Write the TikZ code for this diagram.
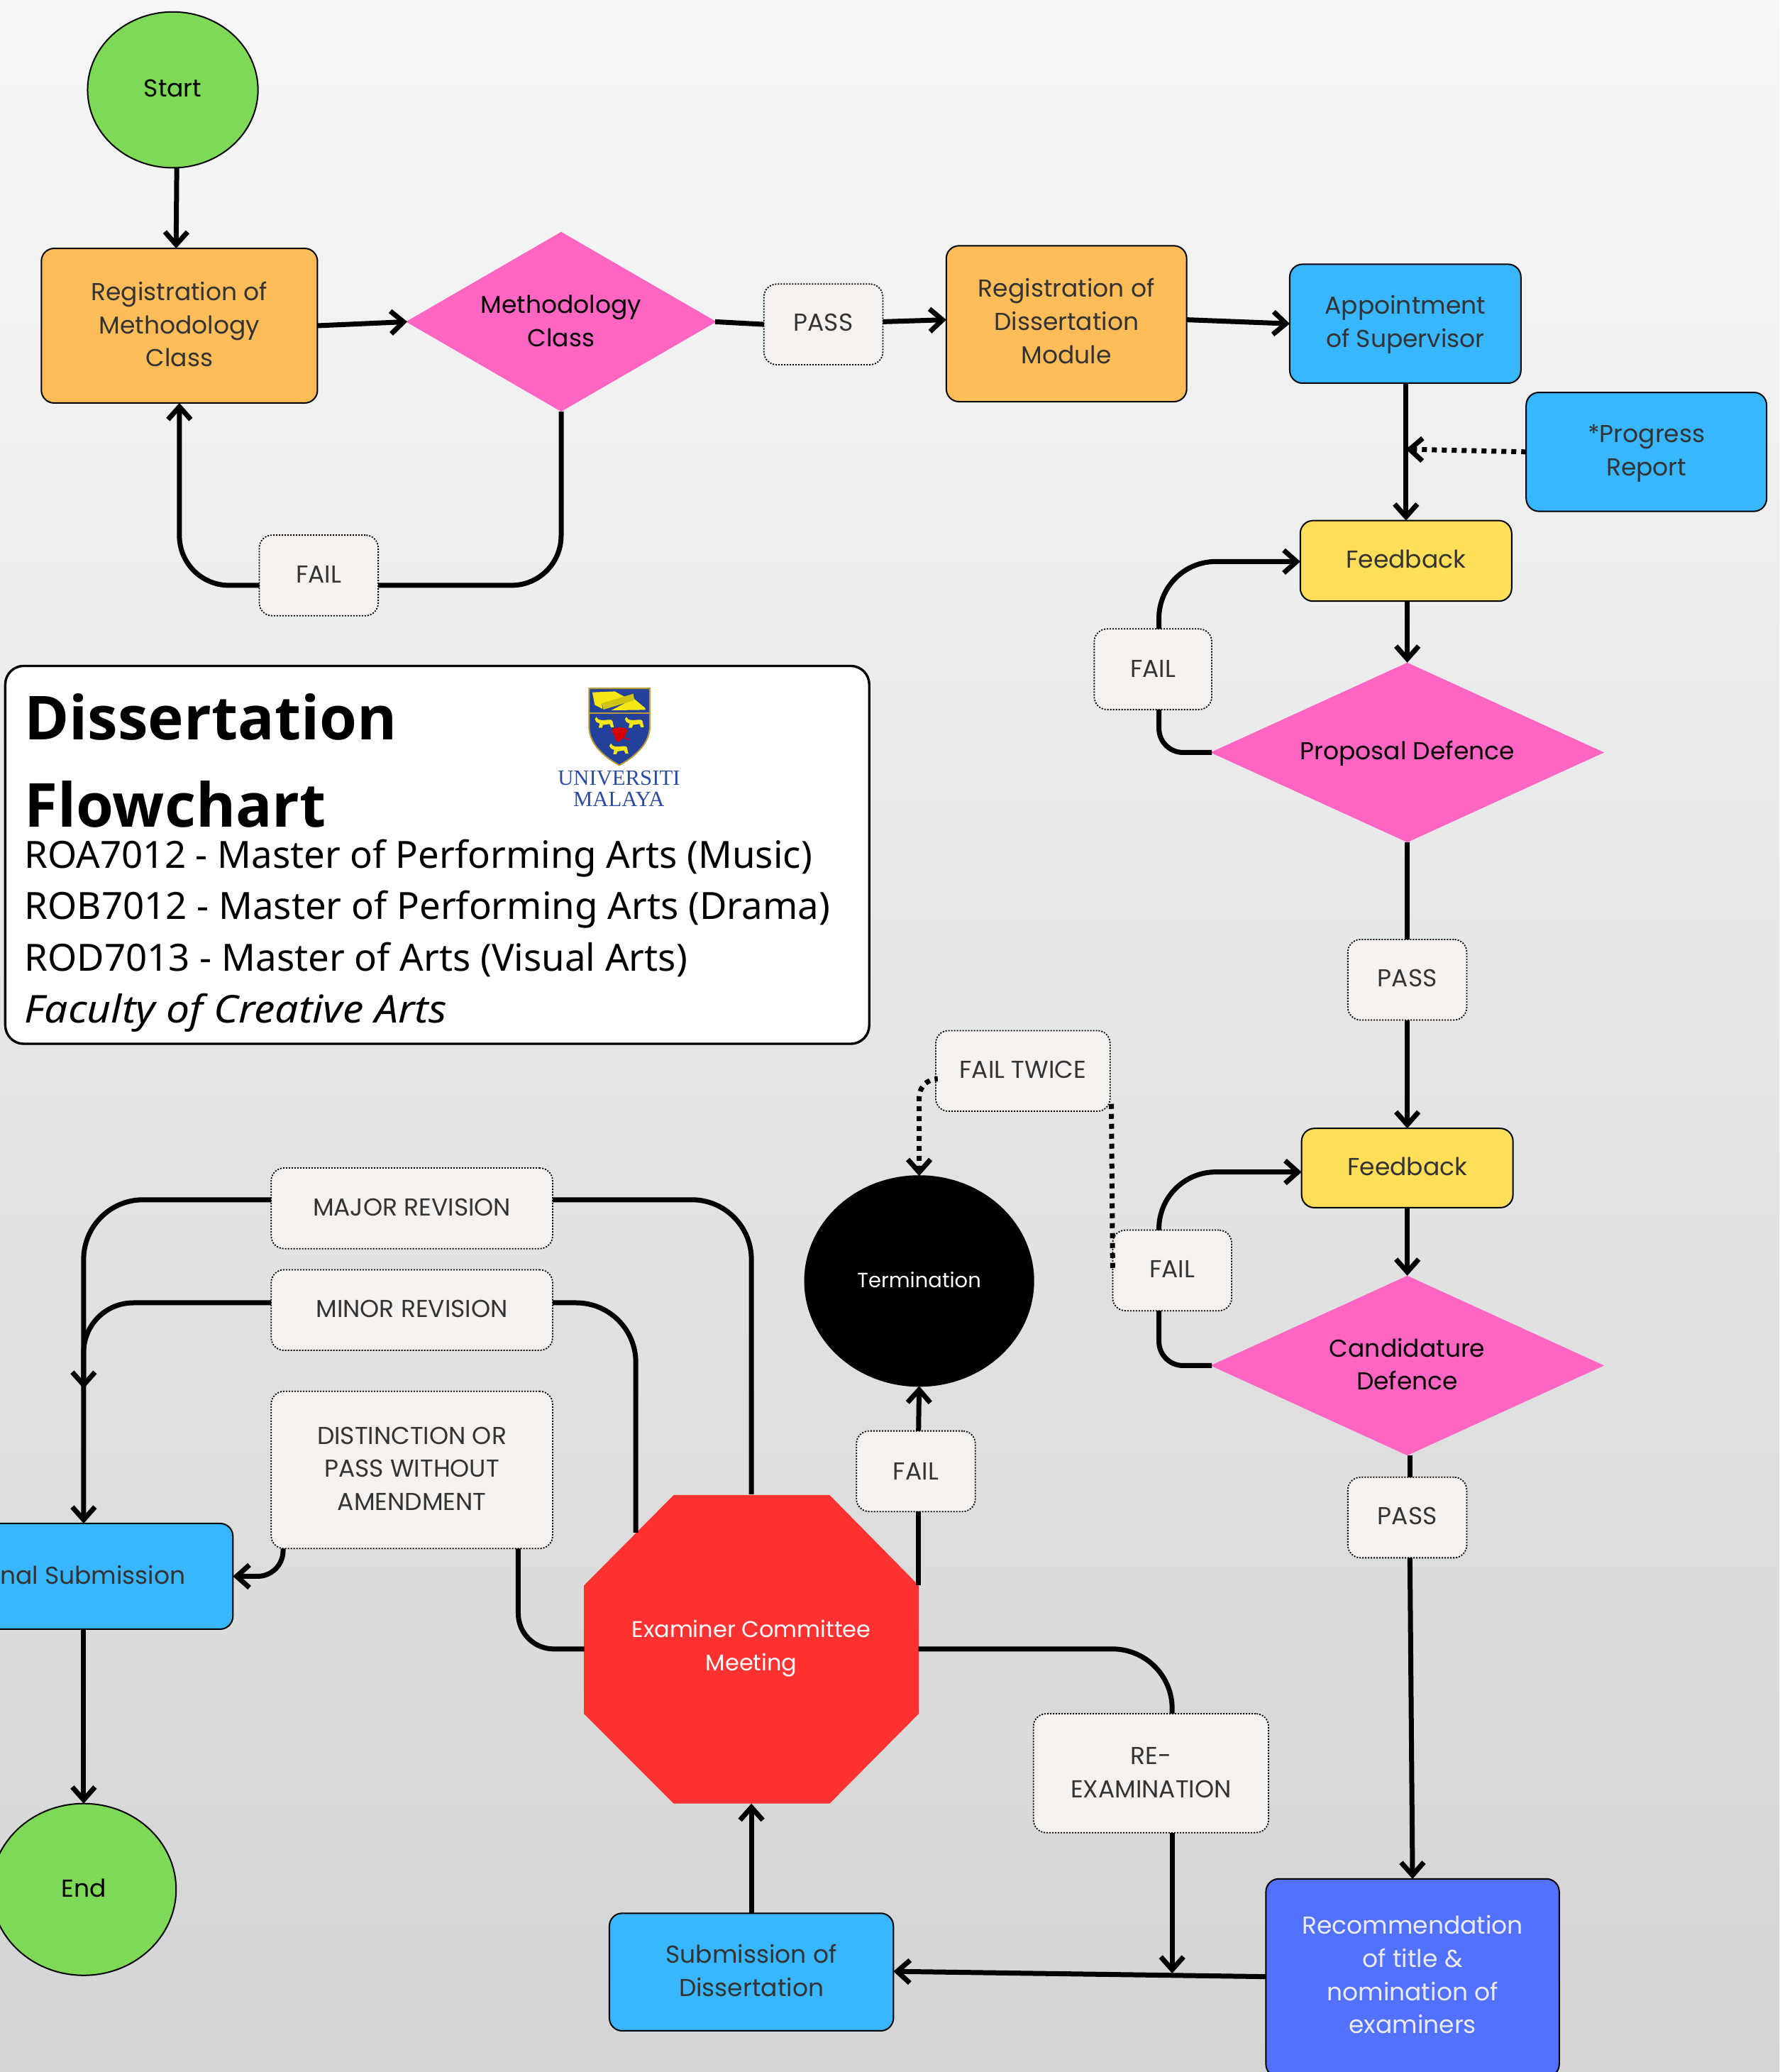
\documentclass[tikz,border=0pt]{standalone}
\usepackage{fontspec}
\setmainfont{Poppins}
\newfontfamily\plex{Noto Sans}
\newfontfamily\plexb{Open Sans}
\newfontfamily\plexi[FakeStretch=1.09]{Noto Sans}
\newfontfamily\logof{Liberation Serif}
\usetikzlibrary{shapes.geometric,arrows.meta,calc}
\definecolor{bgtop}{HTML}{F6F7F7}
\definecolor{bgbot}{HTML}{D3D4D4}
\definecolor{orangebox}{HTML}{FFBD59}
\definecolor{pinkbox}{HTML}{FF66C4}
\definecolor{bluebox}{HTML}{38B6FF}
\definecolor{yellowbox}{HTML}{FFDE59}
\definecolor{greenbox}{HTML}{7ED957}
\definecolor{indigobox}{HTML}{5271FF}
\definecolor{redbox}{HTML}{FF3131}
\definecolor{labelbox}{HTML}{F5F1EE}
\definecolor{inkgrey}{HTML}{333333}
\definecolor{shieldblue}{HTML}{23409A}
\definecolor{shieldedge}{HTML}{B99A3A}
\definecolor{shieldgold}{HTML}{F5E616}
\definecolor{logotext}{HTML}{2C4BA3}
\tikzset{
  x=1.862pt,y=-1.862pt,
  boxtext/.style={font=\fontsize{34.5}{46.6}\selectfont,align=center,text=inkgrey,inner sep=0pt,outer sep=0pt},
  procbox/.style={boxtext,draw=black,line width=2pt,rounded corners=18pt},
  labelb/.style={boxtext,draw=black,fill=labelbox,line width=1.8pt,dash pattern=on 2pt off 2pt,rounded corners=18pt},
  decision/.style={diamond,fill=pinkbox,boxtext,text=black,aspect=1.7},
  blob/.style={ellipse,draw=black,line width=2pt,boxtext,text=black},
  conn/.style={draw=black,line width=7pt},
  flow/.style={conn,-{Straight Barb[length=18pt,width=32pt,line width=7pt]}},
  dots/.style={conn,dash pattern=on 7pt off 7pt},
  dotflow/.style={flow,dash pattern=on 7pt off 7pt},
  titleline/.style={anchor=base west,inner sep=0pt},
  heavy/.style={titleline,font=\plexb\bfseries\fontsize{85.5}{86}\selectfont},
  sub/.style={titleline,font=\plex\fontsize{52.8}{54}\selectfont},
}
% style, name, x0, y0, x1, y1, text shift, text
\newcommand{\mkshape}[8]{%
  \pgfmathsetmacro\mkw{(#5-#3)*1.862}\pgfmathsetmacro\mkh{(#6-#4)*1.862}%
  \pgfmathsetmacro\mkx{(#3+#5)/2+0.3}\pgfmathsetmacro\mky{(#4+#6)/2}%
  \pgfmathsetmacro\mkty{\mky+#7}%
  \node[#1,minimum width=\mkw pt,minimum height=\mkh pt] (#2) at (\mkx,\mky) {};
  \node[#1,draw=none,fill=none] (#2txt) at (\mkx,\mkty) {#8};}
\newcommand{\lionmark}[3]{%
  \begin{scope}[shift={(#1,#2)},x=0.3333pt,y=-0.3333pt,#3]
    \fill[shieldgold] (-26,-12) .. controls (-12,-6) and (0,-8) .. (18,-10) .. controls (30,-12) and (36,-6) .. (36,4)
      -- (40,22) -- (28,22) -- (22,8) -- (-6,12) -- (-10,24) -- (-24,24) -- (-20,6) -- (-34,0) -- (-40,-12) -- (-34,-22) -- cycle;
    \draw[black!75,line width=0.7pt] (36,-8) .. controls (46,-22) and (32,-24) .. (24,-20);
  \end{scope}}
\begin{document}
\begin{tikzpicture}
\clip (0,0) rectangle (1346.92,1568.17);
\shade[top color=bgtop,bottom color=bgbot] (0,0) rectangle (1346.92,1568.17);

% title panel
\node[draw=black,fill=white,line width=3.4pt,rounded corners=26pt,minimum width=654*1.862pt,minimum height=286*1.862pt,inner sep=0pt] (panel) at (331,647) {};
\node[heavy] (t1) at (18.5,560) {Dissertation};
\node[heavy] (t2) at (18.5,626) {Flowchart};
\node[sub] (t3) at (18.5,657) {ROA7012 - Master of Performing Arts (Music)};
\node[sub] (t4) at (18.5,696) {ROB7012 - Master of Performing Arts (Drama)};
\node[sub] (t5) at (18.5,735) {ROD7013 - Master of Arts (Visual Arts)};
\node[sub,font=\plexi\itshape\fontsize{54}{54}\selectfont] (t6) at (18.5,774) {Faculty of Creative Arts};

% logo (drawn in the units of a 3x crop)
\begin{scope}[shift={(413.5,512.9)},x=0.3333pt,y=-0.3333pt]
  \fill[shieldblue,draw=shieldedge,line width=2pt] (181,45) -- (438,45) -- (438,210) .. controls (436,285) and (365,340) .. (309,370) .. controls (253,340) and (183,285) .. (181,210) -- cycle;
  \draw[shieldedge,line width=2pt] (181,150) -- (438,150);
  \fill[shieldgold] (195,62) -- (290,58) -- (330,80) -- (235,112) -- (238,132) -- (205,115) -- cycle;
  \fill[shieldgold] (370,88) -- (418,128) -- (420,136) -- (275,138) -- cycle;
  \fill[shieldgold!85!black] (235,108) -- (368,68) -- (373,95) -- (242,135) -- cycle;
  \fill[red!85!black] (310,235) circle (26);
  \fill[red!85!black] (290,225) circle (13);
  \fill[red!85!black] (330,225) circle (13);
  \fill[red!85!black] (305,258) circle (13);
  \draw[red!85!black,line width=1.6pt] (322,252) -- (355,262);
\end{scope}
\lionmark{457.5}{546.5}{}
\lionmark{480.2}{546.5}{}
\lionmark{468.5}{566.5}{}
\node[font=\logof\fontsize{30.7}{32}\selectfont,text=logotext,inner sep=0pt] (lg1) at (468.5,589) {UNIVERSITI};
\node[font=\logof\fontsize{30.7}{32}\selectfont,text=logotext,inner sep=0pt] (lg2) at (468.5,605) {MALAYA};

% shapes
\mkshape{blob,fill=greenbox}{start}{66}{9}{195}{127}{-1}{Start}
\mkshape{procbox,fill=orangebox}{regm}{31}{188}{240}{305}{-1}{Registration of\\Methodology\\Class}
\mkshape{decision}{mdia}{307}{175.5}{542}{311.5}{-0.5}{Methodology\\Class}
\mkshape{labelb}{pass1}{578}{215}{668}{276}{-1.5}{PASS}
\mkshape{procbox,fill=orangebox}{regd}{716}{186}{898}{304}{-2}{Registration of\\Dissertation\\Module}
\mkshape{procbox,fill=bluebox}{appt}{976}{200}{1151}{290}{0.5}{Appointment\\of Supervisor}
\mkshape{procbox,fill=bluebox}{prog}{1155}{297}{1337}{387}{1}{*Progress\\Report}
\mkshape{procbox,fill=yellowbox}{fb1}{984}{394}{1144}{455}{-1.5}{Feedback}
\mkshape{labelb}{fail1}{196}{405}{286}{466}{-1}{FAIL}
\mkshape{labelb}{fail2}{828}{476}{917}{537}{-0.5}{FAIL}
\mkshape{decision}{pdia}{916}{501.5}{1214}{637.5}{0.5}{Proposal Defence}
\mkshape{labelb}{pass2}{1020}{711}{1110}{772}{-1}{PASS}
\mkshape{procbox,fill=yellowbox}{fb2}{985}{854}{1145}{914}{-1}{Feedback}
\mkshape{labelb}{fail3}{842}{931}{932}{992}{-1}{FAIL}
\mkshape{labelb}{twice}{708}{780}{840}{841}{-1}{FAIL TWICE}
\mkshape{decision}{cdia}{916}{965.5}{1214}{1101.5}{-1}{Candidature\\Defence}
\mkshape{labelb}{pass3}{1020}{1118}{1110}{1179}{-1}{PASS}
\mkshape{blob,fill=black,text=white,font=\fontsize{29}{40}\selectfont}{term}{609}{890}{782}{1049}{-1}{Termination}
\mkshape{labelb}{fail4}{648}{1083}{738}{1144}{0}{FAIL}
\mkshape{labelb}{major}{205}{884}{418}{945}{-1}{MAJOR REVISION}
\mkshape{labelb}{minor}{205}{961}{418}{1022}{-1}{MINOR REVISION}
\mkshape{labelb}{dist}{205}{1053}{418}{1172}{-1}{DISTINCTION OR\\PASS WITHOUT\\AMENDMENT}
\mkshape{procbox,fill=bluebox}{final}{-50}{1153}{176}{1233}{-1}{Final Submission}
\mkshape{blob,fill=greenbox}{endn}{-7}{1365}{133}{1495}{-1}{End}
\fill[redbox] (510,1131.5) -- (628,1131.5) -- (695.5,1200) -- (695.5,1297) -- (628,1365) -- (510,1365) -- (442,1297) -- (442,1200) -- cycle;
\mkshape{boxtext,text=white,font=\fontsize{32}{46.6}\selectfont}{ecm}{442}{1131}{695}{1365}{-0.5}{Examiner Committee\\Meeting}
\mkshape{procbox,fill=bluebox}{subm}{461}{1448}{676}{1537}{-1}{Submission of\\Dissertation}
\mkshape{labelb}{reex}{782}{1297}{960}{1387}{-0.5}{RE-\\EXAMINATION}
\mkshape{procbox,fill=indigobox,text=white!92!black}{reco}{958}{1422}{1180}{1572}{-2.5}{Recommendation\\of title \&\\nomination of\\examiners}

\coordinate (mergept) at (63.3,1051);
\coordinate (reentry) at (887.3,1493.5);

% connectors
\draw[flow] ($(start.south)+(3,0)$) -- ($(regm.north)+(-2.5,0)$);
\draw[flow] (regm.east) -- ($(mdia.west)+(1,0)$);
\draw[conn] ($(mdia.east)+(-1,0)$) -- (pass1.west);
\draw[flow] ($(pass1.east)+(0,-2)$) -- ($(regd.west)+(0,-3)$);
\draw[flow] ($(regd.east)+(0,-3)$) -- (appt.west);
\draw[flow] ($(appt.south)+(0.5,0)$) -- (fb1.north);
\draw[dotflow] (prog.west) -- ($(appt.south)+(0.5,50)$);
\draw[flow,rounded corners=70pt] ($(fail1.west)+(0,7.5)$) -| (regm.south);
\draw[conn,rounded corners=70pt] (mdia.south) |- ($(fail1.east)+(0,7.5)$);
\draw[flow] ($(fb1.south)+(1,0)$) -- (pdia.north);
\draw[flow,rounded corners=80pt] ($(fail2.north)+(4.5,0)$) |- ($(fb1.west)+(0,0.5)$);
\draw[conn,rounded corners=34pt] ($(fail2.south)+(4.5,0)$) |- ($(pdia.west)+(1,0)$);
\draw[conn] (pdia.south) -- (pass2.north);
\draw[flow] (pass2.south) -- (fb2.north);
\draw[flow] (fb2.south) -- (cdia.north);
\draw[flow,rounded corners=80pt] ($(fail3.north)+(-10,0)$) |- ($(fb2.west)+(0,3)$);
\draw[conn,rounded corners=34pt] ($(fail3.south)+(-10,0)$) |- ($(cdia.west)+(1,0)$);
\draw[conn] ($(cdia.south)+(2,0)$) -- ($(pass3.north)+(2,0)$);
\draw[flow] ($(pass3.south)+(2,0)$) -- (reco.north);
\draw[dots] ($(twice.east)+(1,25)$) -- (fail3.west);
\draw[dotflow,rounded corners=26pt] ($(twice.west)+(0,6)$) -| (term.north);
\draw[flow] ($(fail4.north)+(2,0)$) -- (term.south);
\draw[conn] ($(fail4.south)+(2,0)$) -- ($(ecm.east)+(0,-48)$);
\draw[flow] ($(reco.west)+(0,-1)$) -- ($(subm.east)+(0,-0.5)$);
\draw[flow] (subm.north) -- (ecm.south);
\draw[conn,rounded corners=84pt] (ecm.east) -| ($(reex.north)+(16,0)$);
\draw[flow] ($(reex.south)+(16,0)$) -- (reentry);
\draw[conn,rounded corners=84pt] ($(major.east)+(0,-6.5)$) -| (ecm.north);
\draw[conn,rounded corners=84pt] ($(minor.east)+(0,-5.5)$) -| ($(ecm.north)+(-87.5,29)$);
\draw[flow,rounded corners=84pt] ($(major.west)+(0,-6.5)$) -| (final.north);
\draw[flow,rounded corners=70pt] ($(minor.west)+(0,-5.5)$) -| (mergept);
\draw[flow,rounded corners=36pt] ($(dist.south)+(-97.5,0)$) |- (final.east);
\draw[conn,rounded corners=50pt] ($(dist.south)+(80.5,0)$) |- (ecm.west);
\draw[flow] (final.south) -- (endn.north);
\end{tikzpicture}
\end{document}
